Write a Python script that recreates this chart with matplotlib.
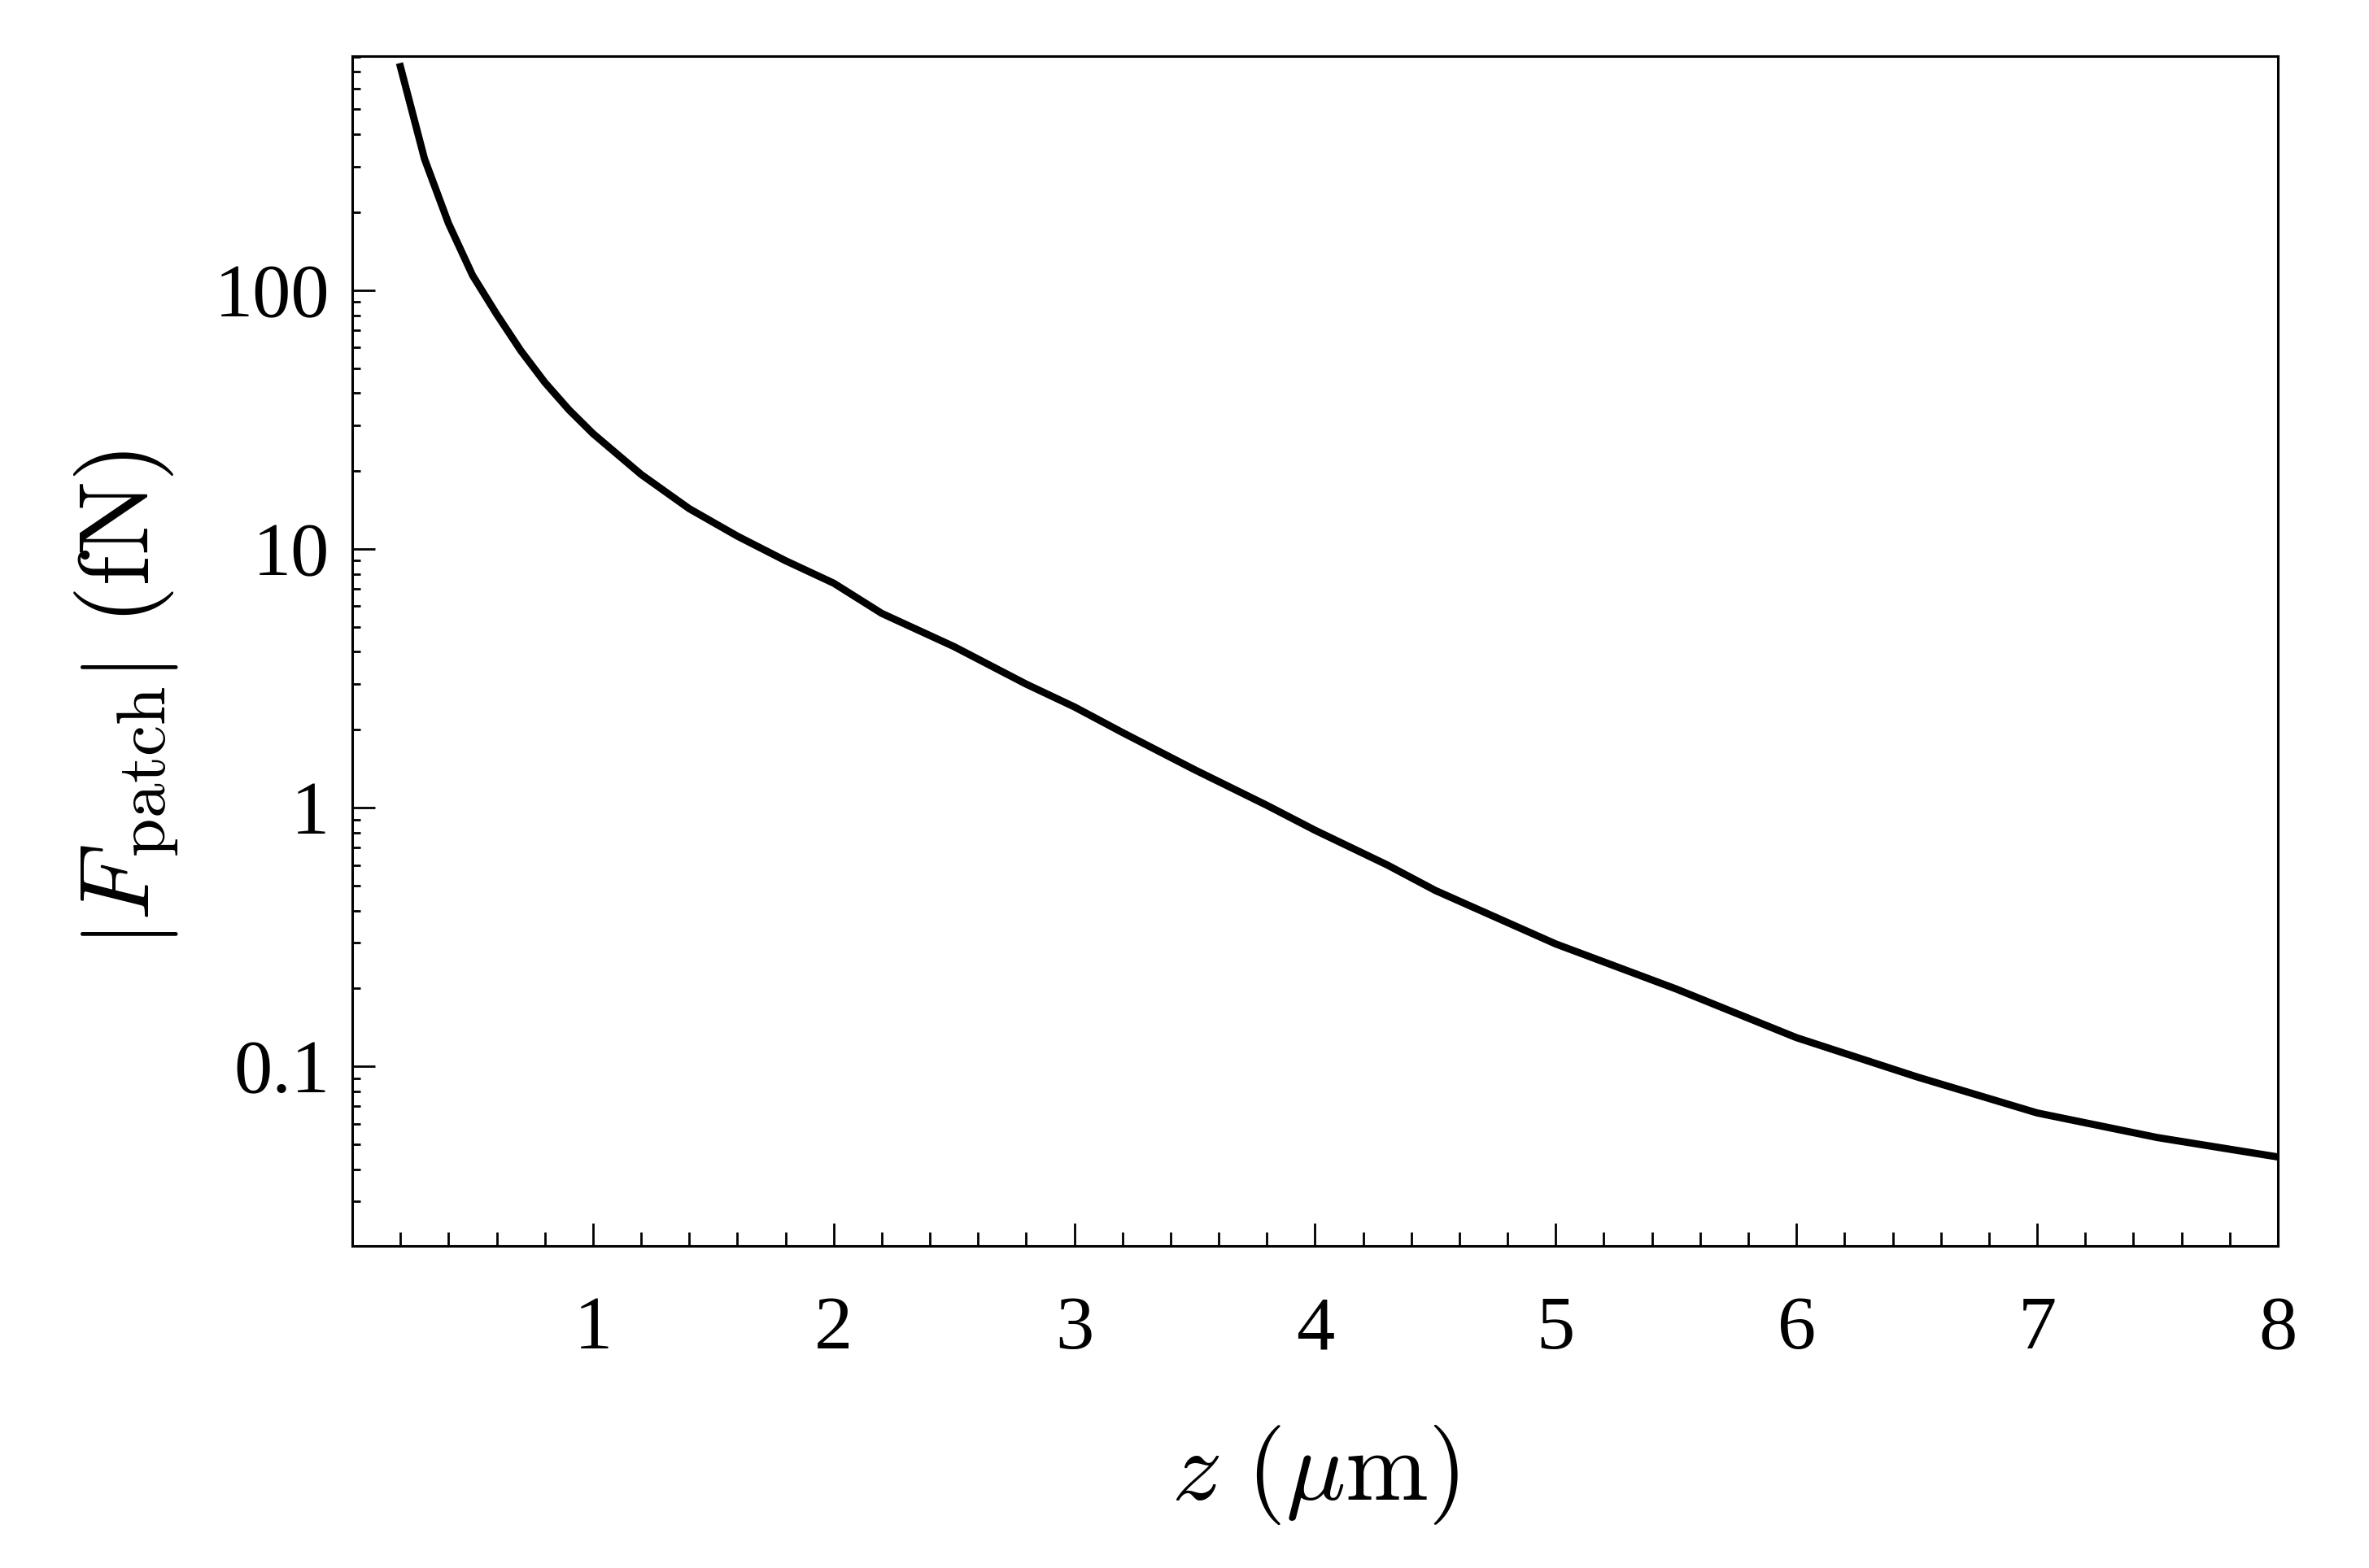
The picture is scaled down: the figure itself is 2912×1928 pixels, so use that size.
import matplotlib
matplotlib.use("Agg")
import matplotlib.pyplot as plt
from matplotlib.ticker import LogLocator, MultipleLocator, FixedLocator, NullFormatter

# distance z (um) and patch force |F| (fN)
z = [0.2, 0.3, 0.4, 0.5, 0.6, 0.7, 0.8, 0.9, 1.0, 1.2, 1.4, 1.6, 1.8, 2.0, 2.2, 2.5,
     2.8, 3.0, 3.2, 3.5, 3.8, 4.0, 4.3, 4.5, 5.0, 5.5, 6.0, 6.5, 7.0, 7.5, 8.0]
F = [731, 322, 181, 114, 80.7, 58.4, 44.0, 34.5, 27.9, 19.4, 14.3, 11.2, 9.0, 7.37, 5.63, 4.19,
     3.0, 2.45, 1.95, 1.40, 1.02, 0.817, 0.60, 0.478, 0.297, 0.199, 0.129, 0.091, 0.066, 0.053, 0.0446]

yticks = [0.1, 1, 10, 100]
ylabels = ["0.1", "1", "10", "100"]
xticks = [1, 2, 3, 4, 5, 6, 7, 8]

plt.rcParams['mathtext.fontset'] = 'cm'
plt.rcParams['font.family'] = ['Liberation Serif', 'DejaVu Serif']

fig = plt.figure(figsize=(14.56, 9.64), dpi=200)
ax = fig.add_axes([0.1487, 0.2054, 0.8128, 0.7588])

ax.plot(z, F, color='black', lw=3.2)
ax.set_yscale('log')
ax.set_xlim(0, 8)
ax.set_ylim(0.0202, 803)

ax.xaxis.set_major_locator(FixedLocator(xticks))
ax.xaxis.set_minor_locator(MultipleLocator(0.2))
ax.set_xticklabels([str(t) for t in xticks])
ax.yaxis.set_major_locator(FixedLocator(yticks))
ax.set_yticklabels(ylabels)
ax.yaxis.set_minor_locator(LogLocator(base=10, subs=range(2, 10), numticks=20))
ax.yaxis.set_minor_formatter(NullFormatter())

for s in ax.spines.values():
    s.set_linewidth(1.1)

ax.tick_params(which='both', direction='in', top=False, right=False, labelsize=34)
ax.tick_params(axis='x', which='major', length=10, width=1.0, pad=22)
ax.tick_params(axis='x', which='minor', length=6, width=1.0)
ax.tick_params(axis='y', which='major', length=10, width=1.0, pad=10)
ax.tick_params(axis='y', which='minor', length=3.6, width=1.0)

ax.set_xlabel(r'$z\ (\mu\mathrm{m})$', fontsize=44, labelpad=26)
ax.set_ylabel(r'$\left|F_{\mathrm{patch}}\right|\ (\mathrm{fN})$', fontsize=44)
ax.yaxis.set_label_coords(-0.089, 0.46)

fig.savefig('out.png', dpi=200)
